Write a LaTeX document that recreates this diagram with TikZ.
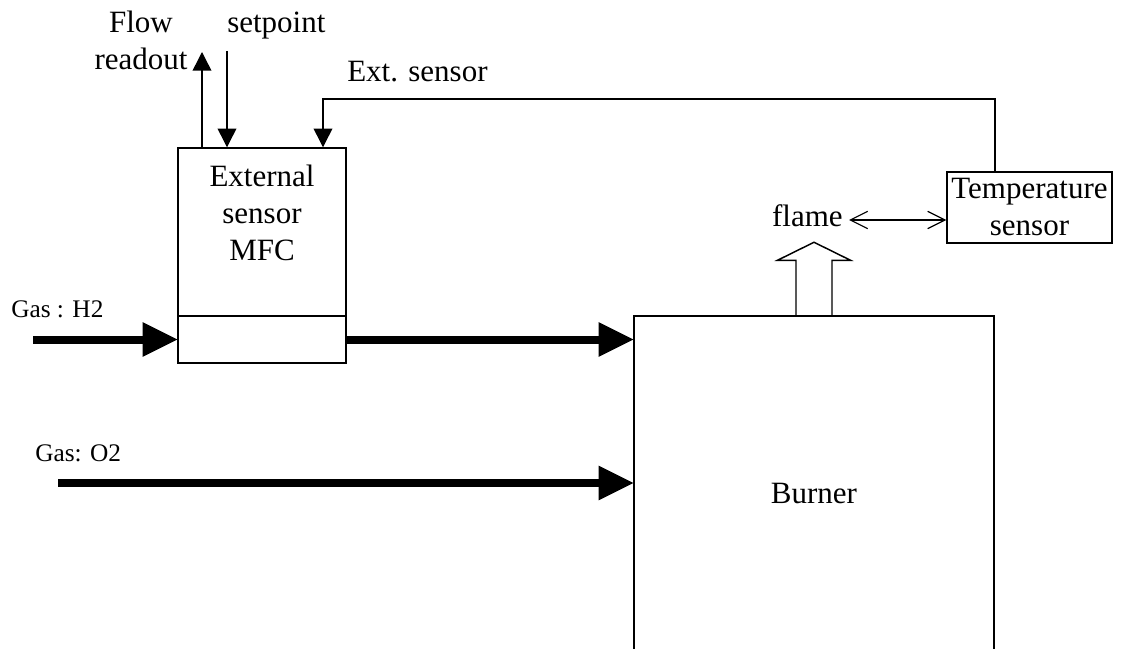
\documentclass[tikz,border=0pt]{standalone}
\usepackage{fontspec}
\setmainfont{Liberation Serif}
\usetikzlibrary{arrows.meta}

\begin{document}
\begin{tikzpicture}[x=0.75pt,y=-0.75pt,font=\fontsize{23.25pt}{27.75pt}\selectfont,
  box/.style={draw,line width=1.1pt,inner sep=1pt,align=center},
  sig/.style={line width=1.1pt,-{Triangle[length=14pt,width=14pt]}},
  gas/.style={line width=6pt,-{Triangle[length=26pt,width=26pt,line width=0pt]}},
  twoway/.style={line width=0.9pt,{Straight Barb[length=13pt,width=13pt]}-{Straight Barb[length=13pt,width=13pt]}},
  txt/.style={inner sep=0pt,align=center},
  gaslbl/.style={inner sep=0pt,anchor=base west,font=\fontsize{19pt}{23pt}\selectfont}]
\useasboundingbox (0,0) rectangle (1121,649);
\clip (0,0) rectangle (1121,649);

\node[box,minimum width=126pt,minimum height=126pt] (mfc) at (262,232) {};
\node[box,minimum width=126pt,minimum height=35.25pt] (valve) at (262,339.5) {};
\node[txt] (mfcname) at (262,213) {External\\sensor\\MFC};
\node[box,minimum width=123.75pt,minimum height=53.25pt] (tsens) at (1029.5,207.5) {Temperature\\sensor};
\node[box,minimum width=270pt,minimum height=265.5pt] (burner) at (814,493) {Burner};

\node[txt] (flow) at (141,40) {Flow\\readout};
\node[txt,anchor=base west] (setp) at (227,33) {setpoint};
\node[txt,anchor=base west] (ext) at (347,82) {Ext. sensor};
\node[txt,anchor=base east] (flame) at (843,226) {flame};
\node[gaslbl] (h2) at (11,317) {Gas : H2};
\node[gaslbl] (o2) at (35,461) {Gas: O2};

\coordinate (flowout) at (202,52);
\coordinate (spin) at (227,51);
\coordinate (extA) at (995,99);
\coordinate (extB) at (323,99);
\coordinate (h2in) at (33,339.5);
\coordinate (o2in) at (58,483);
\coordinate (fl) at ([shift={(4.5pt,4.5pt)}]flame.base east);

\draw[sig] (mfc.north -| flowout) -- (flowout);
\draw[sig] (spin) -- (spin |- mfc.north);
\draw[sig] (tsens.north -| extA) -- (extA) -- (extB) -- (extB |- mfc.north);
\draw[gas] (h2in) -- (valve.west);
\draw[gas] (valve.east) -- (valve.east -| burner.west);
\draw[gas] (o2in) -- (o2in -| burner.west);
\draw[twoway] (fl) -- (fl -| tsens.west);
\draw[line width=1.1pt] ([xshift=-13.5pt]burner.north) -- ++(0,-55) -- ++(-18.5,0)
  -- ++(36.5,-18) -- ++(36.5,18) -- ++(-18.5,0) -- ++(0,55);
\end{tikzpicture}
\end{document}
